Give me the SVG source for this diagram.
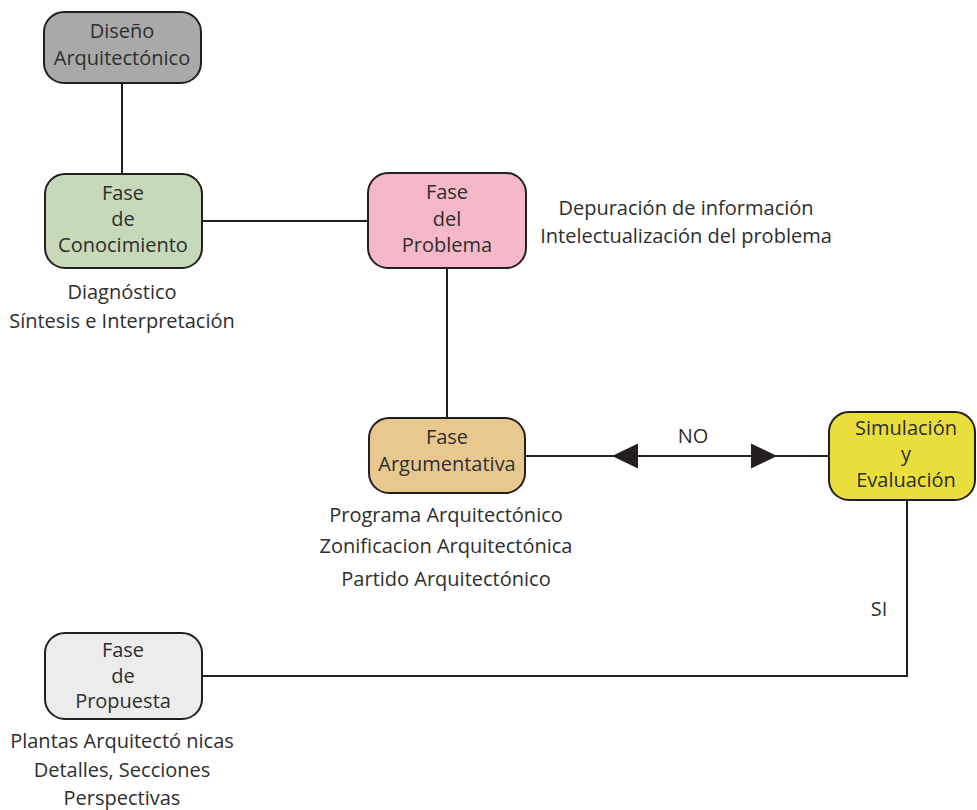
<svg xmlns="http://www.w3.org/2000/svg" width="977" height="810" viewBox="0 0 977 810">
  <style>
    .box { stroke: #231f20; stroke-width: 2; }
    .lbl { font-family: "Open Sans", "Noto Sans", "Liberation Sans", sans-serif; font-size: 20px; fill: #2e2e2e; text-anchor: middle; }
    .wire { stroke: #231f20; stroke-width: 2; fill: none; }
  </style>
  <rect width="977" height="810" fill="#ffffff"/>

  <!-- connectors -->
  <g id="connectors">
    <line class="wire" x1="122" y1="83" x2="122" y2="174"/>
    <line class="wire" x1="202" y1="221" x2="368" y2="221"/>
    <line class="wire" x1="447" y1="268" x2="447" y2="418"/>
    <line class="wire" x1="525" y1="456" x2="829" y2="456"/>
    <polygon points="612,456 638,443.5 638,468.5" fill="#231f20"/>
    <polygon points="777,456 751,443.5 751,468.5" fill="#231f20"/>
    <text class="lbl" x="693" y="443">NO</text>
    <polyline class="wire" points="907,500 907,676 202,676"/>
    <text class="lbl" x="879" y="616">SI</text>
  </g>

  <g id="diseno">
    <rect class="box" x="44" y="12" width="157" height="71" rx="20" fill="#a9a9a9"/>
    <text class="lbl" x="122" y="38">Diseño</text>
    <text class="lbl" x="122" y="65">Arquitectónico</text>
  </g>

  <g id="conocimiento">
    <rect class="box" x="45" y="174" width="157" height="94" rx="20" fill="#c6d9b9"/>
    <text class="lbl" x="123" y="200">Fase</text>
    <text class="lbl" x="123" y="226">de</text>
    <text class="lbl" x="123" y="252">Conocimiento</text>
    <text class="lbl" x="122" y="299">Diagnóstico</text>
    <text class="lbl" x="122" y="328">Síntesis e Interpretación</text>
  </g>

  <g id="problema">
    <rect class="box" x="368" y="173" width="158" height="95" rx="20" fill="#f5b8c7"/>
    <text class="lbl" x="447" y="199">Fase</text>
    <text class="lbl" x="447" y="226">del</text>
    <text class="lbl" x="447" y="252">Problema</text>
    <text class="lbl" x="686" y="215">Depuración de información</text>
    <text class="lbl" x="686" y="243">Intelectualización del problema</text>
  </g>

  <g id="argumentativa">
    <rect class="box" x="369" y="418" width="156" height="75" rx="20" fill="#e9c88f"/>
    <text class="lbl" x="447" y="444">Fase</text>
    <text class="lbl" x="447" y="471">Argumentativa</text>
    <text class="lbl" x="446" y="522">Programa Arquitectónico</text>
    <text class="lbl" x="446" y="553">Zonificacion Arquitectónica</text>
    <text class="lbl" x="446" y="586">Partido Arquitectónico</text>
  </g>

  <g id="simulacion">
    <rect class="box" x="829" y="412" width="146" height="88" rx="20" fill="#e8df3c"/>
    <text class="lbl" x="906" y="435">Simulación</text>
    <text class="lbl" x="906" y="461">y</text>
    <text class="lbl" x="906" y="487">Evaluación</text>
  </g>

  <g id="propuesta">
    <rect class="box" x="45" y="633" width="157" height="86" rx="20" fill="#ececec"/>
    <text class="lbl" x="123" y="657">Fase</text>
    <text class="lbl" x="123" y="683">de</text>
    <text class="lbl" x="123" y="708">Propuesta</text>
    <text class="lbl" x="122" y="748">Plantas Arquitectó nicas</text>
    <text class="lbl" x="122" y="777">Detalles, Secciones</text>
    <text class="lbl" x="122" y="805">Perspectivas</text>
  </g>
</svg>
